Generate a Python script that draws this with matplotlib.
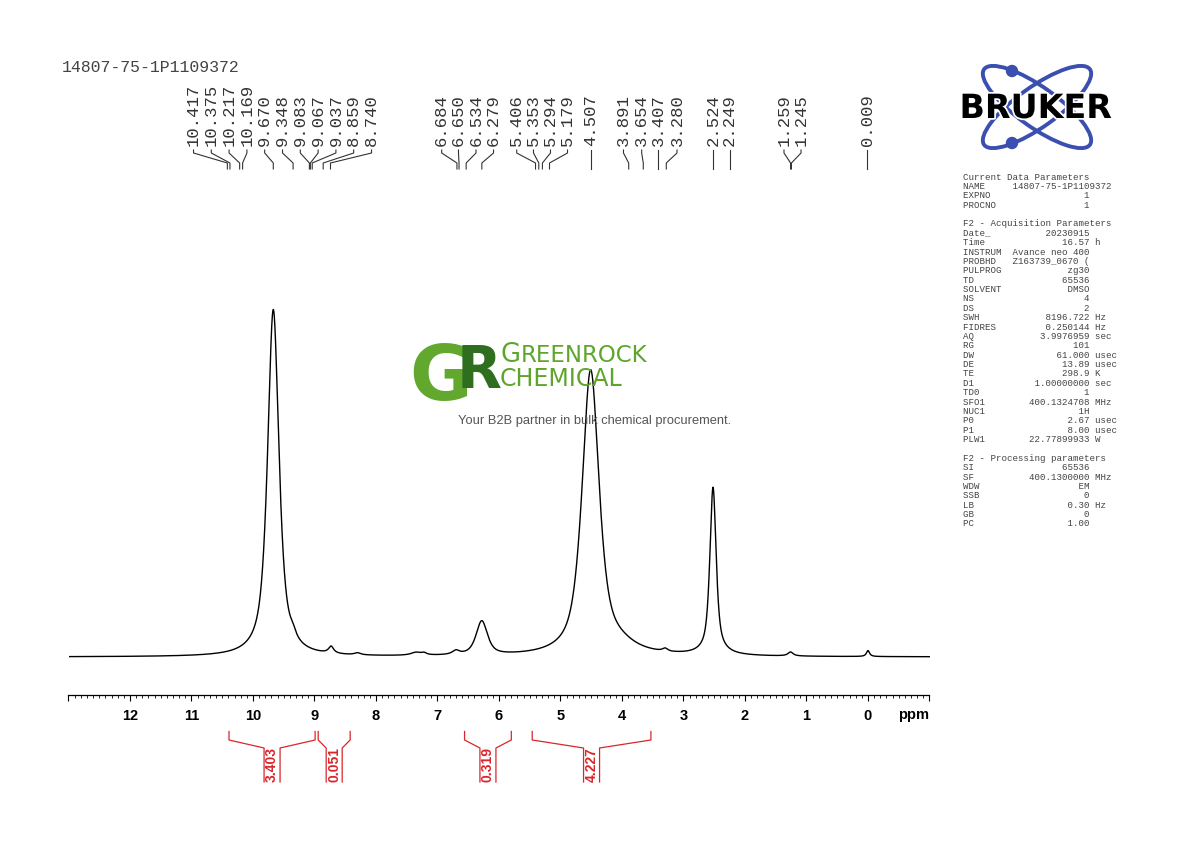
import numpy as np
import matplotlib
matplotlib.use("Agg")
import matplotlib.pyplot as plt
from matplotlib import transforms
from matplotlib.patches import Ellipse, Circle
from matplotlib.ticker import MultipleLocator, FixedLocator
import matplotlib.patheffects as pe

# ---------------- data ----------------
sample_name = "14807-75-1P1109372"

# spectrum read from the picture as a peak list:
# position (ppm), height, full width at half height (ppm), Lorentzian fraction
peak_centers = [9.67, 9.35, 8.73, 8.30, 7.35, 7.22, 6.70, 6.28, 4.51, 4.05, 3.30, 2.52, 2.50, 1.26, 0.00]
peak_heights = [347, 6, 7, 2, 3, 2, 4, 34, 284, 8, 3, 163, 5, 4, 6]
peak_fwhm = [0.22, 0.12, 0.10, 0.12, 0.20, 0.10, 0.14, 0.22, 0.33, 0.70, 0.10, 0.12, 0.40, 0.10, 0.06]
peak_lorentz = [0.75, 1.0, 1.0, 1.0, 1.0, 1.0, 1.0, 0.7, 0.7, 1.0, 1.0, 0.7, 1.0, 1.0, 1.0]

picked_shifts = [10.417, 10.375, 10.217, 10.169, 9.670, 9.348, 9.083, 9.067, 9.037, 8.859, 8.740,
                 6.684, 6.650, 6.534, 6.279, 5.406, 5.353, 5.294, 5.179, 4.507,
                 3.891, 3.654, 3.407, 3.280, 2.524, 2.249, 1.259, 1.245, 0.009]

integral_starts = [10.39, 8.94, 6.56, 5.46]
integral_ends = [8.99, 8.42, 5.80, 3.53]
integral_values = [3.403, 0.051, 0.319, 4.227]

tick_values = list(range(-1, 14))
tick_labels = ["" if (t == -1 or t == 13) else str(t) for t in tick_values]

params_current = [("NAME", "14807-75-1P1109372", ""), ("EXPNO", "1", ""), ("PROCNO", "1", "")]
params_acq = [("Date_", "20230915", ""), ("Time", "16.57", "h"), ("INSTRUM", "Avance neo 400", ""),
              ("PROBHD", "Z163739_0670 (", ""), ("PULPROG", "zg30", ""), ("TD", "65536", ""),
              ("SOLVENT", "DMSO", ""), ("NS", "4", ""), ("DS", "2", ""), ("SWH", "8196.722", "Hz"),
              ("FIDRES", "0.250144", "Hz"), ("AQ", "3.9976959", "sec"), ("RG", "101", ""),
              ("DW", "61.000", "usec"), ("DE", "13.89", "usec"), ("TE", "298.9", "K"),
              ("D1", "1.00000000", "sec"), ("TD0", "1", ""), ("SFO1", "400.1324708", "MHz"),
              ("NUC1", "1H", ""), ("P0", "2.67", "usec"), ("P1", "8.00", "usec"),
              ("PLW1", "22.77899933", "W")]
params_proc = [("SI", "65536", ""), ("SF", "400.1300000", "MHz"), ("WDW", "EM", ""), ("SSB", "0", ""),
               ("LB", "0.30", "Hz"), ("GB", "0", ""), ("PC", "1.00", "")]

# ---------------- layout (label positions, in ppm) ----------------
label_positions = [10.967, 10.678, 10.389, 10.099, 9.810, 9.520, 9.231, 8.941, 8.652, 8.363, 8.073,
                   6.932, 6.659, 6.374, 6.089, 5.712, 5.439, 5.163, 4.886, 4.507,
                   3.976, 3.680, 3.407, 3.106, 2.524, 2.249, 1.366, 1.089, 0.009]

W, H = 1190, 842
fig = plt.figure(figsize=(W / 100, H / 100), dpi=100)
fig.patch.set_facecolor("white")

ax = fig.add_axes([68.5 / W, (H - 695) / H, 861 / W, (695 - 180) / H], zorder=1)
ax.patch.set_alpha(0)
ax.set_xlim(13, -1)
ax.set_ylim(-38, 477)

ppm = np.linspace(13, -1, 8000)
spec = np.zeros_like(ppm)
for c, h, fw, eta in zip(peak_centers, peak_heights, peak_fwhm, peak_lorentz):
    g = fw / 2.0
    s = fw / 2.3548
    lor = 1.0 / (1.0 + ((ppm - c) / g) ** 2)
    gau = np.exp(-0.5 * ((ppm - c) / s) ** 2)
    spec += h * (eta * lor + (1 - eta) * gau)
ax.plot(ppm, spec, color="black", lw=1.0)

for s in ("top", "left", "right"):
    ax.spines[s].set_visible(False)
ax.spines["bottom"].set_linewidth(0.9)
ax.set_yticks([])
ax.xaxis.set_major_locator(FixedLocator(tick_values))
ax.set_xticklabels(tick_labels, fontsize=10.5, fontweight="bold", family="Liberation Sans")
ax.xaxis.set_minor_locator(MultipleLocator(0.1))
ax.tick_params(axis="x", which="major", direction="out", length=4.5, width=0.8, pad=5.5)
ax.tick_params(axis="x", which="minor", direction="out", length=2.2, width=0.6)

# overlay in figure pixels
ov = fig.add_axes([0, 0, 1, 1], zorder=2)
ov.set_xlim(0, W)
ov.set_ylim(H, 0)
ov.axis("off")
bt = transforms.blended_transform_factory(ax.transData, ov.transData)

ov.text(-1, 719, "ppm", transform=bt, ha="right", va="baseline", fontsize=10.5,
        fontweight="bold", family="Liberation Sans")

# title
ov.text(62, 68, sample_name, fontsize=11.9, family="Liberation Mono", color="#444444",
        ha="left", va="center")

# peak labels
for lp, sh in zip(label_positions, picked_shifts):
    ov.text(lp, 146, f"{sh:.3f}", transform=bt, rotation=90, ha="center", va="bottom",
            fontsize=12.4, family="Liberation Mono", color="#333333")
    ov.plot([lp, lp, sh, sh], [150, 153, 163, 169], transform=bt, color="#333333", lw=0.8,
            clip_on=False)

# integrals
red = "#d9262b"
half = 8 / 61.5
for a, b, v in zip(integral_starts, integral_ends, integral_values):
    mid = (a + b) / 2
    ov.plot([a, a, mid + half, mid + half], [731.5, 740, 748, 782], transform=bt, color=red,
            lw=0.9, clip_on=False)
    ov.plot([b, b, mid - half, mid - half], [731.5, 740, 748, 782], transform=bt, color=red,
            lw=0.9, clip_on=False)
    ov.text(mid, 765, f"{v:.3f}", transform=bt, rotation=90, ha="center", va="center",
            fontsize=10, fontweight="bold", family="Liberation Sans", color=red)

# watermark
ov.text(441, 400, "G", fontsize=55, fontweight="bold", family="DejaVu Sans", color="#62a82e",
        ha="center", va="baseline", zorder=5)
ov.text(479, 388, "R", fontsize=42, fontweight="bold", family="DejaVu Sans", color="#2f6d1f",
        ha="center", va="baseline", zorder=6)
ov.text(500, 362, "G", fontsize=18.5, family="DejaVu Sans", color="#5ea52b", ha="left",
        va="baseline", zorder=5)
ov.text(521, 362, "REENROCK", fontsize=16.5, family="DejaVu Sans", color="#5ea52b", ha="left",
        va="baseline", zorder=5)
ov.text(500, 386, "CHEMICAL", fontsize=17, family="DejaVu Sans", color="#5ea52b", ha="left",
        va="baseline", zorder=5)
ov.text(595, 421, "Your B2B partner in bulk chemical procurement.", fontsize=9.3,
        family="Liberation Sans", color="#555555", ha="center", va="center", zorder=5)

# Bruker logo
blue = "#3b4fb0"
for ang in (35.5, -35.5):
    ov.add_patch(Ellipse((1037, 107), 130, 40, angle=ang, fill=False, ec=blue, lw=2.8))
for cy in (71, 143):
    ov.add_patch(Circle((1012, cy), 5.5, color=blue))
ov.text(1036, 118, "BRUKER", fontsize=24, fontweight="bold", family="DejaVu Sans", color="black",
        ha="center", va="baseline", zorder=5,
        path_effects=[pe.withStroke(linewidth=2.5, foreground="white")])

# parameter block
lines = ["Current Data Parameters"]
for n, v, u in params_current:
    if n == "NAME":
        lines.append(n.ljust(9) + v)
    else:
        lines.append(n.ljust(9) + v.rjust(14) + ((" " + u) if u else ""))
lines.append("")
lines.append("F2 - Acquisition Parameters")
for n, v, u in params_acq:
    lines.append(n.ljust(9) + v.rjust(14) + ((" " + u) if u else ""))
lines.append("")
lines.append("F2 - Processing parameters")
for n, v, u in params_proc:
    lines.append(n.ljust(9) + v.rjust(14) + ((" " + u) if u else ""))
for i, ln in enumerate(lines):
    if ln:
        ov.text(963, 177 + i * 9.378, ln, fontsize=6.57, family="Liberation Mono",
                color="#444444", ha="left", va="center")

fig.savefig("out.png", dpi=100)
